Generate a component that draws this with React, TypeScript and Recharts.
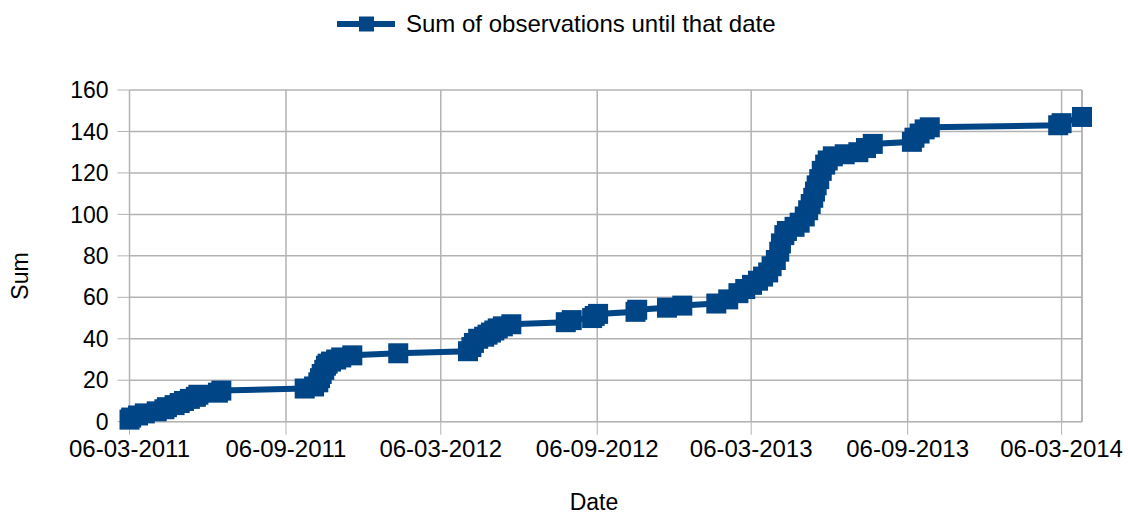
import { LineChart, Line, XAxis, YAxis, CartesianGrid, Legend, ReferenceLine, Label } from 'recharts'

// x = days counted from 06-03-2011, y = running sum on that date
const days = [
  0, 2, 10, 18, 32, 41, 44, 53, 59, 64, 71, 78, 81, 104, 108,
  206, 217, 222, 224, 226, 229, 231, 233, 237, 243, 249, 262, 316,
  398, 402, 405, 410, 417, 421, 425, 429, 433, 439, 449,
  513, 520, 544, 547, 551, 595, 597, 632, 650,
  690, 704, 716, 724, 732, 739, 745, 751, 755, 760, 764, 766, 770, 773, 782, 788,
  794, 798, 801, 804, 806, 808, 811, 814, 818, 821, 827, 841, 857, 866, 874,
  920, 923, 929, 935, 941,
  1092, 1096, 1120,
]
const sums = [
  1, 2, 3, 4, 5, 6, 7, 8, 9, 10, 11, 12, 13, 14, 15,
  16, 17, 19, 21, 23, 25, 27, 28, 29, 30, 31, 32, 33,
  34, 36, 38, 40, 41, 42, 43, 44, 45, 46, 47,
  48, 49, 50, 51, 52, 53, 54, 55, 56,
  57, 59, 62, 64, 66, 68, 70, 72, 75, 78, 82, 86, 90, 92, 94, 96,
  99, 102, 105, 108, 111, 114, 117, 121, 124, 126, 128, 129, 130, 132, 134,
  135, 137, 139, 141, 142,
  143, 144, 147,
]

const tickDays = [0, 184, 366, 550, 731, 915, 1096]
const tickLabels = ['06-03-2011', '06-09-2011', '06-03-2012', '06-09-2012', '06-03-2013', '06-09-2013', '06-03-2014']
const sumTicks = [0, 20, 40, 60, 80, 100, 120, 140, 160]

const data = days.map((day, i) => ({ day, sum: sums[i] }))

const BLUE = '#004586'
const GRID = '#b3b3b3'
const FONT = '"Liberation Sans", Arial, sans-serif'

function SquareDot(props: any) {
  const { cx, cy, index } = props
  if (cx == null || cy == null) return null
  return <rect key={index} x={cx - 10} y={cy - 10} width={20} height={20} fill={BLUE} />
}

function LegendBox() {
  return (
    <div style={{ display: 'flex', alignItems: 'center', fontFamily: FONT, fontSize: 24, color: '#000' }}>
      <svg width={58} height={16}>
        <line x1={0} y1={8} x2={58} y2={8} stroke={BLUE} strokeWidth={6} />
        <rect x={22} y={0.5} width={15} height={15} fill={BLUE} />
      </svg>
      <span style={{ marginLeft: 11 }}>Sum of observations until that date</span>
    </div>
  )
}

const yTickStyle = { fill: '#000', fontSize: 23, fontFamily: FONT }
const xTickStyle = { fill: '#000', fontSize: 24, fontFamily: FONT }

export default function App() {
  return (
    <div style={{ position: 'relative', width: 1128, height: 516, background: '#fff' }}>
      <style>{'body{margin:0}'}</style>
      <LineChart width={1128} height={516} data={data} margin={{ top: 90, right: 46, left: 0, bottom: 0 }}>
        <CartesianGrid stroke={GRID} strokeWidth={1.5} />
        <XAxis
          type="number"
          dataKey="day"
          domain={[0, 1120]}
          ticks={tickDays}
          interval={0}
          tickFormatter={(d: number) => tickLabels[tickDays.indexOf(d)]}
          height={94.3}
          tickSize={13}
          tickMargin={5}
          stroke={GRID}
          tick={xTickStyle}
        >
          <Label
            content={() => (
              <text x={594} y={502} textAnchor="middle" dominantBaseline="central" fontSize={23} fontFamily={FONT} fill="#000">
                Date
              </text>
            )}
          />
        </XAxis>
        <YAxis
          domain={[0, 160]}
          ticks={sumTicks}
          interval={0}
          width={129.5}
          tickSize={12}
          tickMargin={9}
          stroke={GRID}
          tick={yTickStyle}
        >
          <Label
            content={() => (
              <text
                x={20}
                y={276}
                transform="rotate(-90 20 276)"
                textAnchor="middle"
                dominantBaseline="central"
                fontSize={23}
                fontFamily={FONT}
                fill="#000"
              >
                Sum
              </text>
            )}
          />
        </YAxis>
        <ReferenceLine x={1120} stroke={GRID} strokeWidth={1.5} />
        <Legend
          layout="horizontal"
          verticalAlign="middle"
          align="center"
          wrapperStyle={{ left: 337, top: 10, width: 'auto' }}
          content={() => <LegendBox />}
        />
        <Line
          type="linear"
          dataKey="sum"
          name="Sum of observations until that date"
          stroke={BLUE}
          strokeWidth={6}
          dot={SquareDot}
          activeDot={false}
          isAnimationActive={false}
        />
      </LineChart>
    </div>
  )
}
